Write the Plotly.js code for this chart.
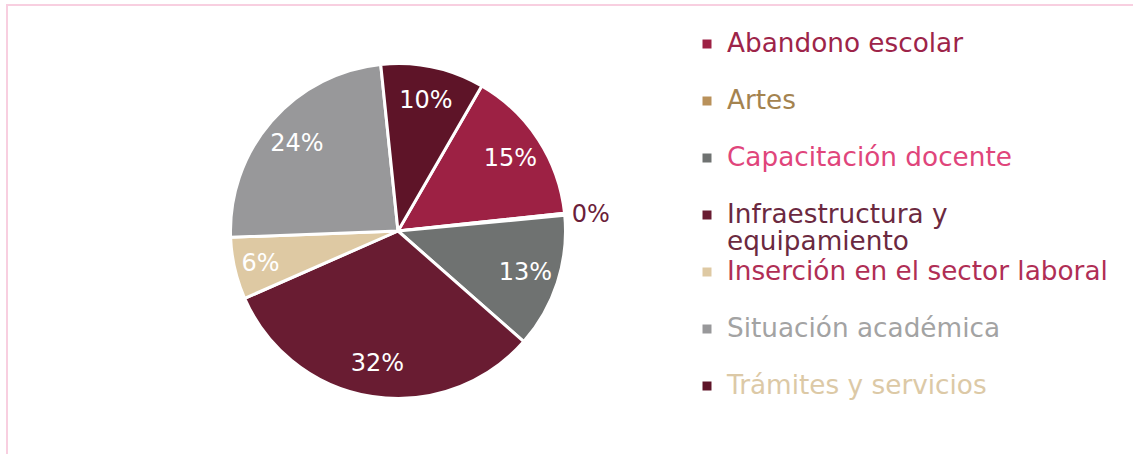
<!DOCTYPE html>
<html><head><meta charset="utf-8">
<script src="https://cdn.plot.ly/plotly-3.0.1.min.js"></script>
<style>
html,body{margin:0;padding:0;background:#fff;}
#wrap{position:relative;width:1133px;height:454px;overflow:hidden;}
#chart{position:absolute;left:0;top:0;width:1133px;height:454px;}
#frame{position:absolute;left:6px;top:4px;width:1300px;height:700px;border-top:2px solid #F8CFE0;border-left:2px solid #F8CFE0;pointer-events:none;}
</style></head><body>
<div id="wrap"><div id="chart"></div><div id="frame"></div></div>
<script>
// Data
const categories = ["Abandono escolar", "Artes", "Capacitación docente", "Infraestructura y equipamiento",
                    "Inserción en el sector laboral", "Situación académica", "Trámites y servicios"];
const legendText = ["Abandono escolar", "Artes", "Capacitación docente", "Infraestructura y<br>equipamiento",
                    "Inserción en el sector laboral", "Situación académica", "Trámites y servicios"];
const values = [15, 0.2, 13, 32, 6, 24, 10];

// Styles
const sliceColors = ["#9D2144", "#B9915A", "#6F7271", "#691C32", "#DEC9A3", "#98989A", "#5E1428"];
const textColors  = ["#9D2449", "#A4834F", "#E0457B", "#6B2940", "#B02E55", "#A3A3A3", "#DCC9A6"];
const FONT = "DejaVu Sans, sans-serif";
const WEIGHT = 400;

const labels = legendText.map((t, i) => {
  const lines = t.split("<br>");
  const parts = lines.map(l => `<span style="font-size:26.3px;color:${textColors[i]}">${l}</span>`);
  if (parts.length < 2) parts.push(" ");
  return parts.join("<br>");
});

const W = 1133, H = 454;
const cx = 398, cy = 231, r = 167.5;
const domain = {x: [(cx - r) / W, (cx + r) / W], y: [1 - (cy + r) / H, 1 - (cy - r) / H]};

// slices
const pieTrace = {
  type: "pie",
  values: values,
  labels: labels,
  text: categories,
  sort: false,
  direction: "clockwise",
  rotation: 30,
  marker: {colors: sliceColors, line: {color: "#ffffff", width: 3}},
  textinfo: "none",
  hovertemplate: "%{text}: %{percent}<extra></extra>",
  domain: domain
};

// percentage labels (transparent ring so labels sit in the outer part of each slice)
const labelTrace = {
  type: "pie",
  values: values,
  labels: labels,
  sort: false,
  direction: "clockwise",
  rotation: 30,
  hole: 0.6,
  showlegend: false,
  hoverinfo: "skip",
  marker: {colors: values.map(() => "rgba(0,0,0,0)"), line: {width: 0}},
  texttemplate: "%{percent:.0%}",
  textposition: "auto",
  insidetextorientation: "horizontal",
  insidetextfont: {family: FONT, size: 24, color: "#ffffff", weight: WEIGHT},
  outsidetextfont: {family: FONT, size: 24, color: "#6B1E3A", weight: WEIGHT},
  domain: domain
};

const layout = {
  width: W, height: H,
  margin: {l: 0, r: 0, t: 0, b: 0},
  paper_bgcolor: "#ffffff",
  font: {family: FONT, weight: WEIGHT},
  showlegend: true,
  legend: {
    x: 687 / W, xanchor: "left",
    y: 1 - 24 / H, yanchor: "top",
    valign: "top",
    font: {family: FONT, size: 20.77, weight: WEIGHT},
    bgcolor: "rgba(0,0,0,0)"
  }
};

Plotly.newPlot("chart", [pieTrace, labelTrace], layout, {displayModeBar: false, staticPlot: true});
</script>
</body></html>
